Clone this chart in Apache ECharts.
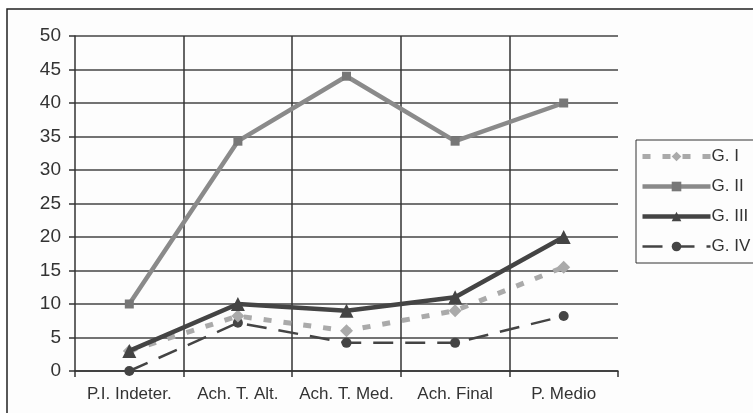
<!DOCTYPE html>
<html>
<head>
<meta charset="utf-8">
<script src="https://cdn.jsdelivr.net/npm/echarts@6/dist/echarts.min.js"></script>
<style>
  html, body { margin: 0; padding: 0; background: #ffffff; }
  #chart { width: 753px; height: 413px; }
</style>
</head>
<body>
<div id="chart"></div>
<script>
// Categories along the x axis
const categories = ['P.I. Indeter.', 'Ach. T. Alt.', 'Ach. T. Med.', 'Ach. Final', 'P. Medio'];

// Values per group
const gI   = [3, 8.2, 6, 9, 15.5];
const gII  = [10, 34.3, 44, 34.3, 40];
const gIII = [3, 10, 9, 11, 20];
const gIV  = [0, 7.2, 4.2, 4.2, 8.2];

const seriesNames = ['G. I', 'G. II', 'G. III', 'G. IV'];
const yTicks = { min: 0, max: 50, interval: 5 };

const chart = echarts.init(document.getElementById('chart'), null, { renderer: 'canvas' });

const font = 'Liberation Sans, Arial, sans-serif';

chart.setOption({
  animation: false,
  backgroundColor: '#ffffff',
  graphic: [{
    type: 'rect',
    shape: { x: 7, y: 9, width: 760, height: 420 },
    style: { fill: '#fdfdfd', stroke: '#222', lineWidth: 1.5 },
    z: -10
  }],
  grid: { left: 75, right: 135, top: 36, bottom: 42, containLabel: false },
  legend: {
    orient: 'vertical',
    left: 636,
    top: 140,
    itemWidth: 68,
    itemHeight: 12,
    itemGap: 13,
    padding: [8, 10, 8, 4],
    borderColor: '#333',
    borderWidth: 1,
    backgroundColor: '#fdfdfd',
    lineStyle: { width: 'inherit' },
    textStyle: { fontFamily: font, fontSize: 17, color: '#333', padding: [0, 0, 0, -4] },
    data: seriesNames
  },
  xAxis: {
    type: 'category',
    data: categories,
    boundaryGap: true,
    axisLine: { lineStyle: { color: '#333', width: 1.5 } },
    axisTick: { show: true, interval: 0, length: 6, lineStyle: { color: '#333', width: 1.5 } },
    axisLabel: { interval: 0, fontFamily: font, fontSize: 17, color: '#333', margin: 15 },
    splitLine: { show: true, interval: 0, showMinLine: false, showMaxLine: false, lineStyle: { color: '#333', width: 1.5 } }
  },
  yAxis: {
    type: 'value',
    min: yTicks.min,
    max: yTicks.max,
    interval: yTicks.interval,
    axisLine: { show: true, lineStyle: { color: '#333', width: 1.5 } },
    axisTick: { show: true, length: 6, lineStyle: { color: '#333', width: 1.5 } },
    axisLabel: { fontFamily: font, fontSize: 19, color: '#333', margin: 14 },
    splitLine: { show: true, lineStyle: { color: '#444', width: 1.5 } }
  },
  series: [
    {
      name: 'G. I', type: 'line', data: gI, z: 3,
      symbol: 'diamond', symbolSize: 13,
      itemStyle: { color: '#aaaaaa' },
      lineStyle: { color: '#aaaaaa', width: 5, type: [8, 12] }
    },
    {
      name: 'G. II', type: 'line', data: gII, z: 4,
      symbol: 'rect', symbolSize: 9,
      itemStyle: { color: '#777777' },
      lineStyle: { color: '#8a8a8a', width: 4.5 }
    },
    {
      name: 'G. III', type: 'line', data: gIII, z: 5,
      symbol: 'triangle', symbolSize: 14,
      itemStyle: { color: '#444444' },
      lineStyle: { color: '#444444', width: 4.5 }
    },
    {
      name: 'G. IV', type: 'line', data: gIV, z: 2,
      symbol: 'circle', symbolSize: 10,
      itemStyle: { color: '#444444' },
      lineStyle: { color: '#444444', width: 2.5, type: [20, 12] }
    }
  ]
});
</script>
</body>
</html>
